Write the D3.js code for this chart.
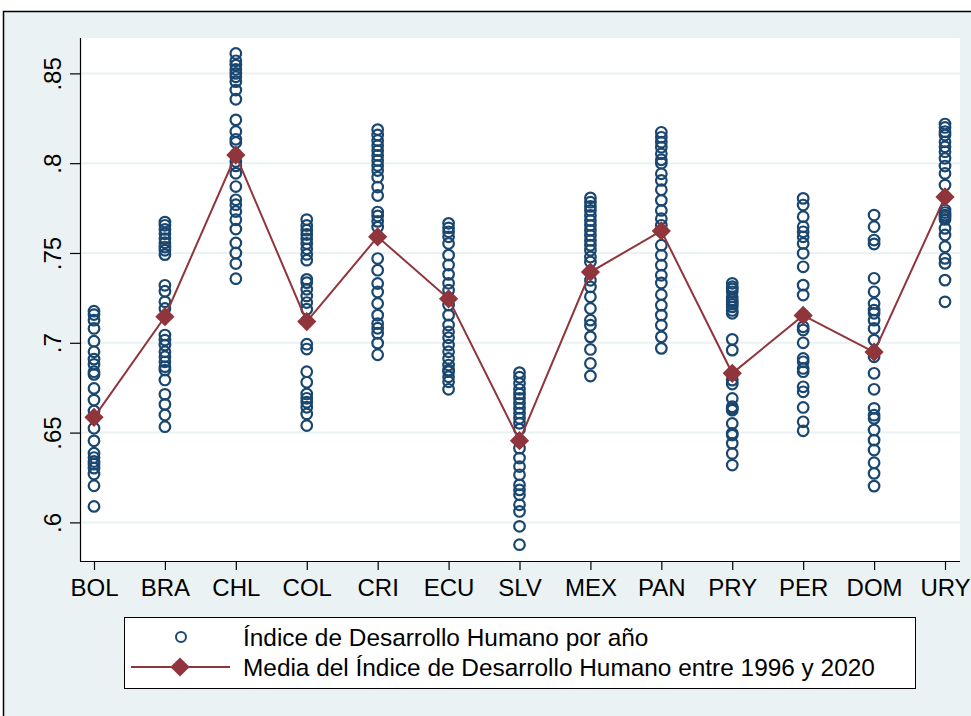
<!DOCTYPE html>
<html>
<head>
<meta charset="utf-8">
<script src="https://cdn.jsdelivr.net/npm/d3@7"></script>
<style>
  html, body { margin: 0; padding: 0; background: #ffffff; }
  svg { display: block; }
  text { font-family: "Liberation Sans", Arial, sans-serif; fill: #000; }
</style>
</head>
<body>
<svg id="chart" width="971" height="716"></svg>
<script>
const categories = ["BOL","BRA","CHL","COL","CRI","ECU","SLV","MEX","PAN","PRY","PER","DOM","URY"];

const BOL = [0.6089,0.6204,0.6269,0.6302,0.6324,0.6339,0.6361,0.6385,0.6454,0.6524,0.6585,0.6620,0.6681,0.6746,0.6824,0.6839,0.6880,0.6909,0.6950,0.7009,0.7080,0.7126,0.7157,0.7176];
const BRA = [0.6533,0.6598,0.6657,0.6713,0.6793,0.6848,0.6867,0.6894,0.6922,0.6950,0.6987,0.7015,0.7043,0.7191,0.7228,0.7287,0.7320,0.7491,0.7515,0.7533,0.7557,0.7580,0.7607,0.7631,0.7654,0.7672];
const CHL = [0.7357,0.7441,0.7500,0.7556,0.7633,0.7685,0.7731,0.7769,0.7796,0.7870,0.7944,0.7985,0.8009,0.8050,0.8115,0.8133,0.8176,0.8241,0.8356,0.8407,0.8454,0.8481,0.8500,0.8522,0.8546,0.8570,0.8611];
const COL = [0.6539,0.6604,0.6641,0.6669,0.6691,0.6715,0.6780,0.6839,0.6965,0.6992,0.7122,0.7187,0.7224,0.7261,0.7298,0.7335,0.7353,0.7460,0.7492,0.7523,0.7553,0.7579,0.7603,0.7627,0.7653,0.7686];
const CRI = [0.6933,0.6998,0.7053,0.7081,0.7107,0.7154,0.7219,0.7283,0.7330,0.7404,0.7469,0.7589,0.7644,0.7676,0.7706,0.7728,0.7820,0.7867,0.7922,0.7959,0.7987,0.8015,0.8043,0.8070,0.8098,0.8126,0.8157,0.8187];
const ECU = [0.6741,0.6783,0.6811,0.6839,0.6848,0.6876,0.6913,0.6950,0.6987,0.7028,0.7061,0.7099,0.7154,0.7210,0.7247,0.7293,0.7331,0.7381,0.7433,0.7488,0.7553,0.7590,0.7618,0.7640,0.7665];
const SLV = [0.5876,0.5978,0.6061,0.6098,0.6154,0.6181,0.6209,0.6265,0.6311,0.6358,0.6413,0.6456,0.6519,0.6552,0.6580,0.6608,0.6635,0.6663,0.6691,0.6715,0.6741,0.6774,0.6808,0.6834];
const MEX = [0.6815,0.6885,0.6963,0.7033,0.7098,0.7126,0.7191,0.7256,0.7311,0.7348,0.7394,0.7450,0.7478,0.7515,0.7543,0.7570,0.7598,0.7626,0.7654,0.7681,0.7709,0.7737,0.7759,0.7783,0.7807];
const PAN = [0.6969,0.7033,0.7098,0.7154,0.7209,0.7268,0.7333,0.7376,0.7432,0.7487,0.7543,0.7623,0.7654,0.7691,0.7737,0.7793,0.7852,0.7904,0.7941,0.8000,0.8019,0.8052,0.8089,0.8117,0.8144,0.8172];
const PRY = [0.6319,0.6384,0.6440,0.6486,0.6496,0.6551,0.6625,0.6635,0.6644,0.6690,0.6770,0.6792,0.6830,0.6959,0.7019,0.7164,0.7180,0.7200,0.7215,0.7228,0.7240,0.7256,0.7284,0.7300,0.7312,0.7331];
const PER = [0.6510,0.6560,0.6640,0.6727,0.6755,0.6839,0.6857,0.6894,0.6913,0.7000,0.7071,0.7089,0.7154,0.7266,0.7321,0.7423,0.7498,0.7553,0.7590,0.7618,0.7646,0.7702,0.7767,0.7804];
const DOM = [0.6202,0.6273,0.6332,0.6403,0.6458,0.6514,0.6579,0.6597,0.6635,0.6741,0.6830,0.6922,0.6950,0.7015,0.7080,0.7126,0.7164,0.7182,0.7219,0.7284,0.7359,0.7550,0.7572,0.7646,0.7711];
const URY = [0.7228,0.7349,0.7442,0.7470,0.7535,0.7600,0.7637,0.7687,0.7700,0.7711,0.7725,0.7739,0.7813,0.7878,0.7943,0.7984,0.8027,0.8064,0.8091,0.8119,0.8157,0.8175,0.8199,0.8218];

const yearly = [BOL,BRA,CHL,COL,CRI,ECU,SLV,MEX,PAN,PRY,PER,DOM,URY];
const means = [0.6585,0.7145,0.8045,0.7118,0.7590,0.7245,0.6455,0.7394,0.7623,0.6830,0.7152,0.6948,0.7812];

const yTicks = [0.6,0.65,0.7,0.75,0.8,0.85];
const yTickLabels = [".6",".65",".7",".75",".8",".85"];
const legendLabels = ["Índice de Desarrollo Humano por año","Media del Índice de Desarrollo Humano entre 1996 y 2020"];

const navy = "#1a476f", maroon = "#90353b", bg = "#eaf2f3", grid = "#eaf2f3";

const svg = d3.select("#chart");
const plot = {left: 80, right: 960, top: 38, bottom: 561};

// outer graph region
svg.append("rect").attr("x", 3.5).attr("y", 11.5).attr("width", 1000).attr("height", 800)
  .attr("fill", bg).attr("stroke", "#000").attr("stroke-width", 1.5);
// plot region
svg.append("rect").attr("x", plot.left).attr("y", plot.top)
  .attr("width", plot.right - plot.left).attr("height", plot.bottom - plot.top).attr("fill", "#fff");

const x = d3.scalePoint().domain(categories).range([94, 945]);
const y = d3.scaleLinear().domain([0.5785, 0.8697]).range([plot.bottom, plot.top]);

// gridlines
svg.append("g").selectAll("line").data(yTicks).join("line")
  .attr("x1", plot.left).attr("x2", plot.right)
  .attr("y1", d => y(d)).attr("y2", d => y(d))
  .attr("stroke", grid).attr("stroke-width", 2);

// y axis
const yAxis = d3.axisLeft(y).tickValues(yTicks)
  .tickFormat((d, i) => yTickLabels[i]).tickSize(10).tickPadding(6);
const gy = svg.append("g").attr("transform", `translate(${plot.left},0)`).call(yAxis);
gy.select(".domain").attr("stroke", "#000").attr("stroke-width", 1.2)
  .attr("d", `M0.5,${plot.top}V${plot.bottom}`);
gy.selectAll(".tick line").attr("stroke", "#000").attr("stroke-width", 1.2);
gy.selectAll(".tick text")
  .attr("font-size", 24).attr("font-family", "Liberation Sans, Arial, sans-serif").attr("fill", "#000")
  .attr("text-anchor", "middle").attr("dy", null).attr("x", null)
  .attr("transform", "translate(-19,0) rotate(-90)");

// x axis
const xAxis = d3.axisBottom(x).tickSize(9).tickPadding(9);
const gx = svg.append("g").attr("transform", `translate(0,${plot.bottom})`).call(xAxis);
gx.select(".domain").attr("stroke", "#000").attr("stroke-width", 1.2)
  .attr("d", `M${plot.left},0.5H${plot.right}`);
gx.selectAll(".tick line").attr("stroke", "#000").attr("stroke-width", 1.2);
gx.selectAll(".tick text").attr("font-size", 24)
  .attr("font-family", "Liberation Sans, Arial, sans-serif").attr("fill", "#000");

// yearly points
const pts = [];
yearly.forEach((arr, i) => arr.forEach(v => pts.push({c: categories[i], v})));
svg.append("g").selectAll("circle").data(pts).join("circle")
  .attr("cx", d => x(d.c)).attr("cy", d => y(d.v)).attr("r", 5.3)
  .attr("fill", "none").attr("stroke", navy).attr("stroke-width", 2.2);

// mean line
const line = d3.line().x((d, i) => x(categories[i])).y(d => y(d));
svg.append("path").datum(means).attr("d", line)
  .attr("fill", "none").attr("stroke", maroon).attr("stroke-width", 2);
const diamond = d3.symbol().type(d3.symbolSquare).size(185);
svg.append("g").selectAll("path").data(means).join("path")
  .attr("d", diamond)
  .attr("transform", (d, i) => `translate(${x(categories[i])},${y(d)}) rotate(45)`)
  .attr("fill", maroon);

// legend
const lg = svg.append("g");
lg.append("rect").attr("x", 124.5).attr("y", 617.5).attr("width", 791).attr("height", 71)
  .attr("fill", "#fff").attr("stroke", "#000").attr("stroke-width", 1);
lg.append("circle").attr("cx", 181).attr("cy", 637).attr("r", 5)
  .attr("fill", "none").attr("stroke", navy).attr("stroke-width", 2);
lg.append("line").attr("x1", 131).attr("x2", 230).attr("y1", 667).attr("y2", 667)
  .attr("stroke", maroon).attr("stroke-width", 2);
lg.append("path").attr("d", diamond).attr("transform", "translate(180,667) rotate(45)").attr("fill", maroon);
lg.selectAll("text").data(legendLabels).join("text")
  .attr("x", 243).attr("y", (d, i) => 646 + i * 30)
  .attr("font-size", 24.4).text(d => d);
</script>
</body>
</html>
